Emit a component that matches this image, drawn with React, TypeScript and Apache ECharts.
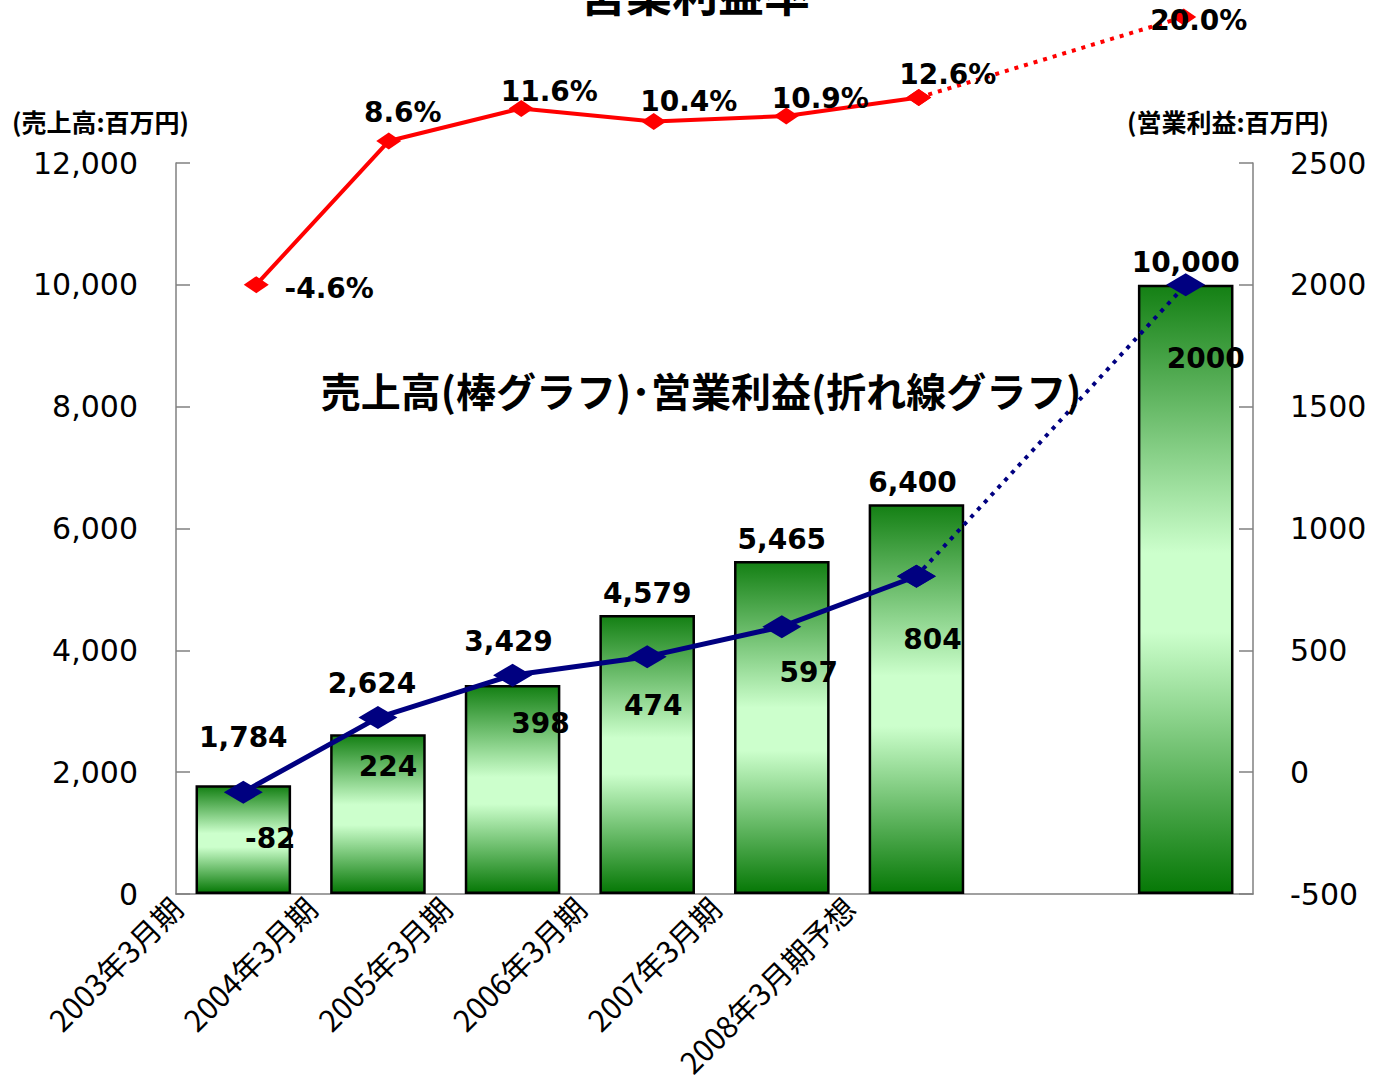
import React, { useEffect, useRef } from 'react';
import * as echarts from 'echarts';

// ---- data ----
const slots = ['2003年3月期', '2004年3月期', '2005年3月期', '2006年3月期', '2007年3月期', '2008年3月期予想', '空欄', '目標'];
const xTickLabels = ['2003年3月期', '2004年3月期', '2005年3月期', '2006年3月期', '2007年3月期', '2008年3月期予想'];
const sales: (number | null)[] = [1784, 2624, 3429, 4579, 5465, 6400, null, 10000];
const profit: (number | null)[] = [-82, 224, 398, 474, 597, 804, null, 2000];
const margin: (number | null)[] = [-4.6, 8.6, 11.6, 10.4, 10.9, 12.6, null, 20.0];
const lastActual = 5; // solid line up to this index, dotted after it
const leftTicks = { min: 0, max: 12000, step: 2000 };
const rightTicks = { min: -500, max: 2500, step: 500 };

// ---- label placement (styling only) ----
const salesLabelShift = [[0, -26], [-6, -29], [-4, -22], [0, 0], [0, 0], [-4, 0], [0, 0], [0, 0]];
const profitLabelShift = [[27, 46], [10, 49], [28, 48], [6, 49], [27, 46], [16, 63], [0, 0], [20, 74]];
const marginLabelShift = [[73, 4], [14, -29], [28, -17], [35, -20], [34, -18], [29, -23], [0, 0], [15, 3]];

const NUM_FONT = '"DejaVu Sans", Verdana, sans-serif';
const JP_FONT = '"Noto Sans CJK JP", sans-serif';

export default function App() {
  const ref = useRef<HTMLDivElement>(null);

  useEffect(() => {
    document.body.style.margin = '0';
    if (!ref.current) return;
    const chart = echarts.init(ref.current, null, { renderer: 'svg' });

    const barGradient = new echarts.graphic.LinearGradient(0, 0, 0, 1, [
      { offset: 0, color: '#148014' },
      { offset: 0.44, color: '#ccffcc' },
      { offset: 0.57, color: '#ccffcc' },
      { offset: 1, color: '#067806' },
    ]);

    const dataLabel = {
      fontFamily: NUM_FONT,
      fontWeight: 'bold' as const,
      fontSize: 28,
      color: '#000',
    };

    const axisGray = { color: '#808080', width: 1.5 };

    const option: any = {
      animation: false,
      backgroundColor: '#ffffff',
      grid: [
        { left: 176, top: 163, width: 1077, height: 731, containLabel: false },
        { left: 190, top: 17, width: 1060, height: 272, containLabel: false },
      ],
      xAxis: [
        {
          type: 'category',
          gridIndex: 0,
          data: slots,
          boundaryGap: true,
          axisLine: { lineStyle: axisGray },
          axisTick: { inside: true, length: 9, lineStyle: axisGray },
          axisLabel: { show: false },
          splitLine: { show: false },
        },
        {
          type: 'value',
          gridIndex: 0,
          position: 'bottom',
          min: 0,
          max: slots.length,
          interval: 1,
          axisLine: { show: false },
          axisTick: { show: false },
          splitLine: { show: false },
          axisLabel: {
            rotate: 45,
            margin: 8,
            fontFamily: JP_FONT,
            fontSize: 30,
            color: '#000',
            showMinLabel: true,
            showMaxLabel: true,
            formatter: (v: number) => xTickLabels[Math.round(v)] ?? '',
          },
        },
        {
          type: 'category',
          gridIndex: 1,
          data: slots,
          boundaryGap: true,
          show: false,
        },
      ],
      yAxis: [
        {
          type: 'value',
          gridIndex: 0,
          position: 'left',
          min: leftTicks.min,
          max: leftTicks.max,
          interval: leftTicks.step,
          axisLine: { show: true, lineStyle: axisGray },
          axisTick: { show: true, inside: true, length: 14, lineStyle: axisGray },
          splitLine: { show: false },
          axisLabel: {
            margin: 38,
            fontFamily: NUM_FONT,
            fontSize: 30,
            color: '#000',
            formatter: (v: number) => v.toLocaleString('en-US'),
          },
        },
        {
          type: 'value',
          gridIndex: 0,
          position: 'right',
          min: rightTicks.min,
          max: rightTicks.max,
          interval: rightTicks.step,
          axisLine: { show: true, lineStyle: axisGray },
          axisTick: { show: true, inside: true, length: 14, lineStyle: axisGray },
          splitLine: { show: false },
          axisLabel: {
            margin: 37,
            fontFamily: NUM_FONT,
            fontSize: 30,
            color: '#000',
            formatter: (v: number) => String(v),
          },
        },
        {
          type: 'value',
          gridIndex: 1,
          min: -5,
          max: 20,
          show: false,
        },
      ],
      graphic: [
        {
          type: 'text',
          x: 695,
          y: 14,
          z: 100,
          style: {
            text: '営業利益率',
            fontFamily: JP_FONT,
            fontWeight: 'bold',
            fontSize: 46,
            fill: '#000',
            align: 'center',
            textAlign: 'center',
            verticalAlign: 'bottom',
            textVerticalAlign: 'bottom',
          },
        },
        {
          type: 'text',
          x: 701,
          y: 390,
          z: 100,
          style: {
            text: '売上高(棒グラフ)･営業利益(折れ線グラフ)',
            fontFamily: JP_FONT,
            fontWeight: 'bold',
            fontSize: 40,
            fill: '#000',
            align: 'center',
            textAlign: 'center',
            verticalAlign: 'middle',
            textVerticalAlign: 'middle',
          },
        },
        {
          type: 'text',
          x: 12,
          y: 121,
          style: {
            text: '(売上高:百万円)',
            fontFamily: JP_FONT,
            fontWeight: 'bold',
            fontSize: 25,
            fill: '#000',
            align: 'left',
            textAlign: 'left',
            verticalAlign: 'middle',
            textVerticalAlign: 'middle',
          },
        },
        {
          type: 'text',
          x: 1127,
          y: 121,
          style: {
            text: '(営業利益:百万円)',
            fontFamily: JP_FONT,
            fontWeight: 'bold',
            fontSize: 25,
            fill: '#000',
            align: 'left',
            textAlign: 'left',
            verticalAlign: 'middle',
            textVerticalAlign: 'middle',
          },
        },
      ],
      series: [
        {
          name: '売上高',
          type: 'bar',
          xAxisIndex: 0,
          yAxisIndex: 0,
          barWidth: '71%',
          itemStyle: { color: barGradient, borderColor: '#000', borderWidth: 2.5 },
          label: {
            show: true,
            position: 'top',
            distance: 8,
            ...dataLabel,
            formatter: (p: any) => Number(p.value).toLocaleString('en-US'),
          },
          data: sales.map((v, i) =>
            v == null ? '-' : { value: v, label: { offset: salesLabelShift[i] } }
          ),
          z: 2,
        },
        {
          name: '営業利益',
          type: 'line',
          xAxisIndex: 0,
          yAxisIndex: 1,
          symbol: 'diamond',
          symbolSize: [39, 23],
          clip: false,
          lineStyle: { color: '#000080', width: 5 },
          itemStyle: { color: '#000080' },
          label: {
            show: true,
            position: 'inside',
            ...dataLabel,
            formatter: (p: any) => String(p.value),
          },
          data: profit.map((v, i) =>
            v == null || i > lastActual ? '-' : { value: v, label: { offset: profitLabelShift[i] } }
          ),
          z: 5,
        },
        {
          name: '営業利益(予想)',
          type: 'line',
          xAxisIndex: 0,
          yAxisIndex: 1,
          symbol: 'diamond',
          symbolSize: [39, 23],
          connectNulls: true,
          clip: false,
          lineStyle: { color: '#000080', width: 4, type: [4, 6] },
          itemStyle: { color: '#000080' },
          label: {
            show: true,
            position: 'inside',
            ...dataLabel,
            formatter: (p: any) => String(p.value),
          },
          data: profit.map((v, i) =>
            v == null || i < lastActual
              ? '-'
              : {
                  value: v,
                  label: { show: i > lastActual, offset: profitLabelShift[i] },
                }
          ),
          z: 4,
        },
        {
          name: '営業利益率',
          type: 'line',
          xAxisIndex: 2,
          yAxisIndex: 2,
          symbol: 'diamond',
          symbolSize: [25, 17],
          clip: false,
          lineStyle: { color: '#ff0000', width: 4 },
          itemStyle: { color: '#ff0000' },
          label: {
            show: true,
            position: 'inside',
            ...dataLabel,
            formatter: (p: any) => Number(p.value).toFixed(1) + '%',
          },
          data: margin.map((v, i) =>
            v == null || i > lastActual ? '-' : { value: v, label: { offset: marginLabelShift[i] } }
          ),
          z: 6,
        },
        {
          name: '営業利益率(予想)',
          type: 'line',
          xAxisIndex: 2,
          yAxisIndex: 2,
          symbol: 'diamond',
          symbolSize: [25, 17],
          connectNulls: true,
          clip: false,
          lineStyle: { color: '#ff0000', width: 4, type: [4, 6] },
          itemStyle: { color: '#ff0000' },
          label: {
            show: true,
            position: 'inside',
            ...dataLabel,
            formatter: (p: any) => Number(p.value).toFixed(1) + '%',
          },
          data: margin.map((v, i) =>
            v == null || i < lastActual
              ? '-'
              : {
                  value: v,
                  label: { show: i > lastActual, offset: marginLabelShift[i] },
                }
          ),
          z: 6,
        },
      ],
    };

    chart.setOption(option);
    return () => {
      chart.dispose();
    };
  }, []);

  return (
    <div
      ref={ref}
      style={{ position: 'absolute', left: 0, top: 0, width: 1391, height: 1082, background: '#fff' }}
    />
  );
}
